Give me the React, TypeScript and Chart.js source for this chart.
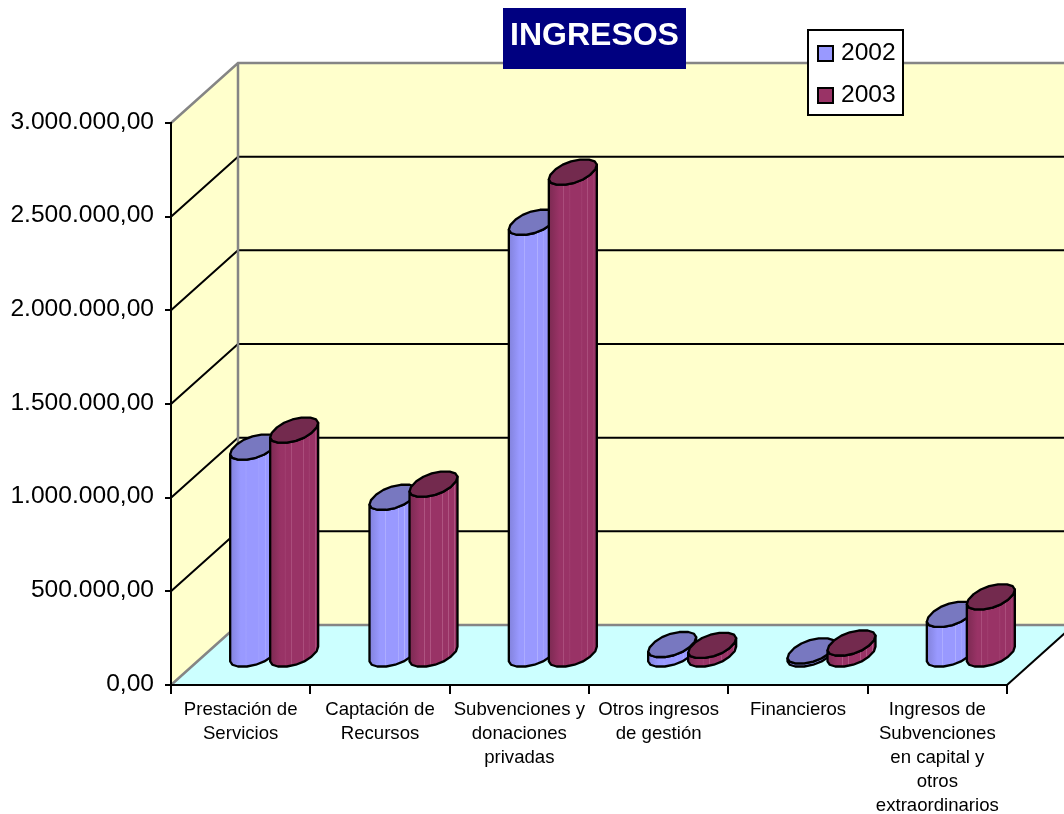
import React, { useEffect, useRef } from "react";
import { Chart, registerables } from "chart.js";

Chart.register(...registerables);

const categories = [
  ["Prestación de", "Servicios"],
  ["Captación de", "Recursos"],
  ["Subvenciones y", "donaciones", "privadas"],
  ["Otros ingresos", "de gestión"],
  ["Financieros"],
  ["Ingresos de", "Subvenciones", "en capital y", "otros", "extraordinarios"],
];
const values2002 = [1110000, 842000, 2310000, 56000, 22000, 217000];
const values2003 = [1200000, 912000, 2578000, 51000, 64000, 310000];
const seriesNames = ["2002", "2003"];
const seriesColors = ["#9999FF", "#993366"];
const capColors = ["#7878C0", "#732A4E"];
const edgeColors = ["#8282DC", "#7C2A52"];
const stripeColors = ["#B4B4FF", "#B45C88"];
const stripes = [
  [0.33, 0.6, 0.73],
  [0.31, 0.44, 0.69, 0.81, 0.94],
];
const yTicks = [0, 500000, 1000000, 1500000, 2000000, 2500000, 3000000];
const titleText = "INGRESOS";
const FONT = '"Liberation Sans", Arial, sans-serif';

const DEPTH_X = 67;
const DEPTH_Y = 60;
const OFF_X = 33.5;
const OFF_Y = 30;
const CAP_X = 12.2;
const CAP_Y = 12.5;
const GREY = "#858585";

function fmt(v: number) {
  const s = String(Math.round(v)).replace(/\B(?=(\d{3})+(?!\d))/g, ".");
  return s + ",00";
}

const scenePlugin = {
  id: "scene3d",
  beforeDraw(chart: any) {
    const { ctx, chartArea: a, scales } = chart;
    const y = scales.y;
    const { left: L, right: R } = a;
    const top = y.getPixelForValue(3000000);
    const bot = y.getPixelForValue(0);
    ctx.save();
    ctx.fillStyle = "#FFFFCC";
    ctx.fillRect(L + DEPTH_X, top - DEPTH_Y, R - L, bot - top);
    ctx.beginPath();
    ctx.moveTo(L, top);
    ctx.lineTo(L + DEPTH_X, top - DEPTH_Y);
    ctx.lineTo(L + DEPTH_X, bot - DEPTH_Y);
    ctx.lineTo(L, bot);
    ctx.closePath();
    ctx.fill();
    ctx.fillStyle = "#CCFFFF";
    ctx.beginPath();
    ctx.moveTo(L, bot);
    ctx.lineTo(L + DEPTH_X, bot - DEPTH_Y);
    ctx.lineTo(R + DEPTH_X, bot - DEPTH_Y);
    ctx.lineTo(R, bot);
    ctx.closePath();
    ctx.fill();

    ctx.lineWidth = 2;
    ctx.strokeStyle = "#000000";
    for (const v of yTicks) {
      if (v === 0 || v === 3000000) continue;
      const p = y.getPixelForValue(v);
      ctx.beginPath();
      ctx.moveTo(L, p);
      ctx.lineTo(L + DEPTH_X, p - DEPTH_Y);
      ctx.lineTo(R + DEPTH_X, p - DEPTH_Y);
      ctx.stroke();
    }
    ctx.lineWidth = 2.5;
    ctx.strokeStyle = GREY;
    ctx.beginPath();
    ctx.moveTo(L, top);
    ctx.lineTo(L + DEPTH_X, top - DEPTH_Y);
    ctx.lineTo(R + DEPTH_X, top - DEPTH_Y);
    ctx.moveTo(L + DEPTH_X, top - DEPTH_Y);
    ctx.lineTo(L + DEPTH_X, bot - DEPTH_Y);
    ctx.lineTo(R + DEPTH_X, bot - DEPTH_Y);
    ctx.moveTo(L, bot);
    ctx.lineTo(L + DEPTH_X, bot - DEPTH_Y);
    ctx.stroke();
    ctx.lineWidth = 2;
    ctx.strokeStyle = "#000000";
    ctx.beginPath();
    ctx.moveTo(R, bot);
    ctx.lineTo(R + DEPTH_X, bot - DEPTH_Y);
    ctx.stroke();
    ctx.restore();
  },
  beforeDatasetsDraw(chart: any) {
    const { ctx } = chart;
    const count = chart.data.labels.length;
    for (let i = 0; i < count; i++) {
      chart.data.datasets.forEach((_: any, d: number) => {
        const el = chart.getDatasetMeta(d).data[i];
        drawCylinder(ctx, el.x + OFF_X, el.y - OFF_Y, el.base - OFF_Y, el.width, d);
      });
    }
  },
  beforeDatasetDraw() {
    return false;
  },
  afterDraw(chart: any) {
    const { ctx } = chart;
    ctx.save();
    ctx.fillStyle = "#000080";
    ctx.fillRect(503, 8, 183, 61);
    ctx.fillStyle = "#FFFFFF";
    ctx.font = `bold 32px ${FONT}`;
    ctx.textAlign = "center";
    ctx.textBaseline = "middle";
    ctx.fillText(titleText, 594.5, 36);
    ctx.fillStyle = "#FFFFFF";
    ctx.strokeStyle = "#000000";
    ctx.lineWidth = 2;
    ctx.fillRect(808, 30, 95, 85);
    ctx.strokeRect(808, 30, 95, 85);
    ctx.font = `24.6px ${FONT}`;
    ctx.textAlign = "left";
    chart.data.datasets.forEach((ds: any, i: number) => {
      const yy = 46 + i * 42;
      ctx.fillStyle = seriesColors[i];
      ctx.fillRect(818, yy, 15, 15);
      ctx.strokeRect(818, yy, 15, 15);
      ctx.fillStyle = "#000000";
      ctx.fillText(ds.label, 841, yy + 7);
    });
    ctx.restore();
  },
};

function capOutline(width: number): { x: number; y: number }[] {
  const half = width / 2;
  const a = Math.sqrt(half * half - CAP_X * CAP_X);
  const N = 16;
  const pts: { x: number; y: number }[] = [];
  const pow = (c: number) => Math.sign(c) * Math.pow(Math.abs(c), 0.92);
  for (let k = 0; k < N; k++) {
    const t = ((k + 0.5) * 2 * Math.PI) / N;
    const u = pow(Math.cos(t));
    const v = pow(Math.sin(t));
    pts.push({ x: a * u + CAP_X * v, y: -CAP_Y * v });
  }
  const mx = Math.max(...pts.map((p) => Math.abs(p.x)));
  const my = Math.max(...pts.map((p) => Math.abs(p.y)));
  return pts.map((p) => ({ x: (p.x * half) / mx, y: (p.y * CAP_Y) / my }));
}

function drawCylinder(ctx: any, cx: number, yTop: number, yBase: number, width: number, idx: number) {
  const half = width / 2;
  const pts = capOutline(width);
  const N = pts.length;
  let li = 0;
  let ri = 0;
  pts.forEach((p, k) => {
    if (p.x < pts[li].x) li = k;
    if (p.x > pts[ri].x) ri = k;
  });
  ctx.save();
  ctx.lineJoin = "round";
  const g = ctx.createLinearGradient(cx - half, 0, cx + half, 0);
  const base = seriesColors[idx];
  const edge = edgeColors[idx];
  const stops: [number, string][] = [
    [0, edge],
    [0.22, base],
  ];
  for (const s of stripes[idx]) {
    stops.push([s - 0.012, base], [s, stripeColors[idx]], [s + 0.012, base]);
  }
  stops.push([0.96, base], [1, edge]);
  for (const [o, c] of stops) g.addColorStop(Math.min(1, Math.max(0, o)), c);

  ctx.beginPath();
  ctx.moveTo(cx + pts[li].x, yTop + pts[li].y);
  ctx.lineTo(cx + pts[li].x, yBase + pts[li].y);
  for (let k = li; k !== ri; ) {
    k = (k + 1) % N;
    ctx.lineTo(cx + pts[k].x, yBase + pts[k].y);
  }
  ctx.lineTo(cx + pts[ri].x, yTop + pts[ri].y);
  for (let k = ri; k !== li; ) {
    k = (k - 1 + N) % N;
    ctx.lineTo(cx + pts[k].x, yTop + pts[k].y);
  }
  ctx.closePath();
  ctx.fillStyle = g;
  ctx.fill();
  ctx.lineWidth = 2.3;
  ctx.strokeStyle = "#000000";
  ctx.stroke();

  ctx.beginPath();
  pts.forEach((p, k) => {
    if (k === 0) ctx.moveTo(cx + p.x, yTop + p.y);
    else ctx.lineTo(cx + p.x, yTop + p.y);
  });
  ctx.closePath();
  ctx.fillStyle = capColors[idx];
  ctx.fill();
  ctx.stroke();
  ctx.restore();
}

export default function App() {
  const ref = useRef<HTMLCanvasElement>(null);
  useEffect(() => {
    const chart = new Chart(ref.current as HTMLCanvasElement, {
      type: "bar",
      data: {
        labels: categories as any,
        datasets: [
          { label: seriesNames[0], data: values2002, backgroundColor: seriesColors[0] },
          { label: seriesNames[1], data: values2003, backgroundColor: seriesColors[1] },
        ],
      },
      plugins: [scenePlugin as any],
      options: {
        responsive: false,
        animation: false,
        devicePixelRatio: 1,
        layout: { padding: { left: 0, right: 57, top: 123, bottom: 0 } },
        datasets: { bar: { categoryPercentage: 0.5742, barPercentage: 1.2 } },
        plugins: { legend: { display: false }, title: { display: false }, tooltip: { enabled: false } },
        scales: {
          x: {
            afterFit: (s: any) => { s.height = 129; },
            grid: { drawOnChartArea: false, drawTicks: true, tickLength: 9, color: "#000000", lineWidth: 2 },
            border: { display: true, color: "#000000", width: 2 },
            ticks: {
              autoSkip: false,
              maxRotation: 0,
              minRotation: 0,
              padding: 4,
              color: "#000000",
              font: { family: FONT, size: 18.6, lineHeight: 1.29 },
            },
          },
          y: {
            min: 0,
            max: 3000000,
            afterFit: (s: any) => { s.width = 171; },
            afterBuildTicks: (s: any) => { s.ticks = yTicks.map((value) => ({ value })); },
            grid: { drawOnChartArea: false, drawTicks: true, tickLength: 6, color: "#000000", lineWidth: 2 },
            border: { display: true, color: "#000000", width: 2 },
            ticks: {
              padding: 11,
              labelOffset: -1,
              color: "#000000",
              font: { family: FONT, size: 24.6 },
              callback: (v: any) => fmt(Number(v)),
            },
          },
        },
      } as any,
    });
    return () => chart.destroy();
  }, []);
  return (
    <canvas
      ref={ref}
      width={1064}
      height={814}
      style={{ position: "fixed", left: 0, top: 0, width: 1064, height: 814, display: "block", background: "#FFFFFF" }}
    />
  );
}
